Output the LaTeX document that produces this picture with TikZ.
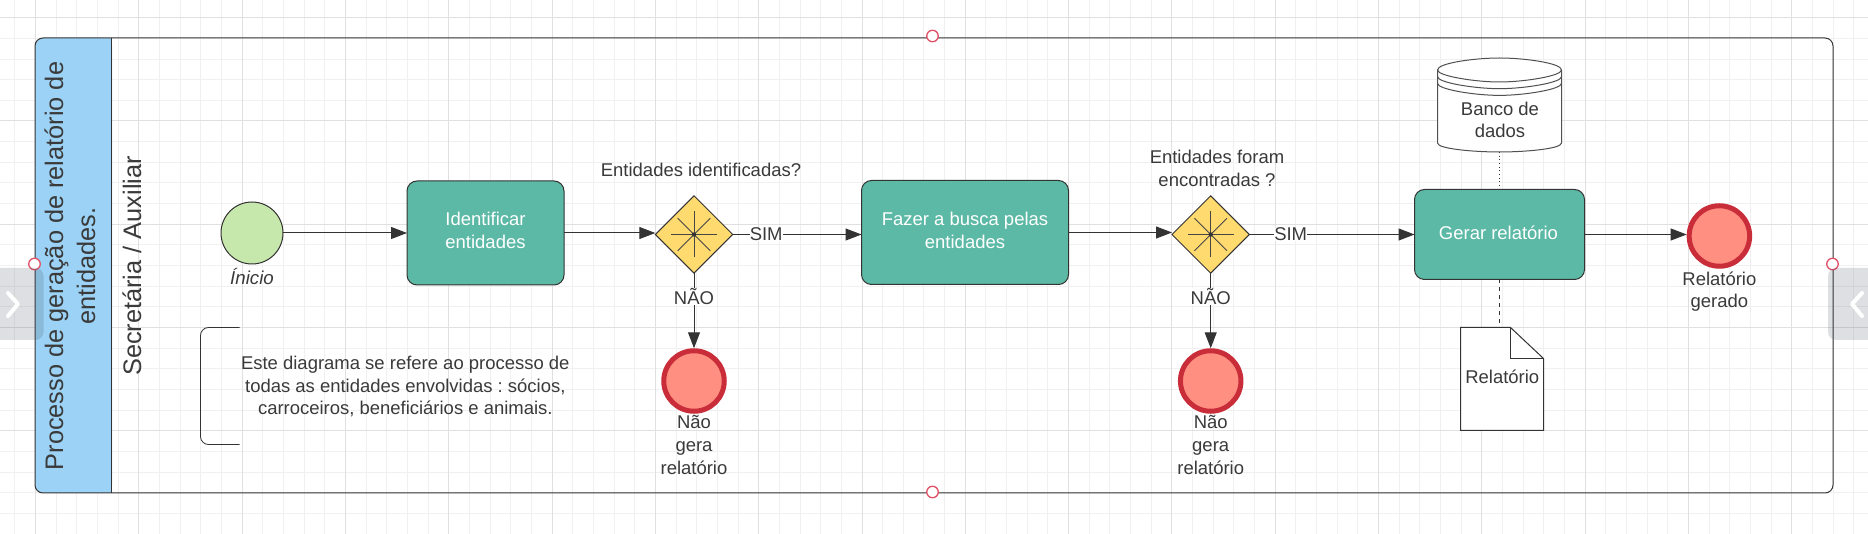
\documentclass[tikz,border=0pt]{standalone}
\usepackage{fontspec}
\setmainfont{Liberation Sans}
\frenchspacing
\usetikzlibrary{arrows.meta}
\usetikzlibrary{shapes.geometric}

\def\px{0.75pt}
\tikzset{
	gridminor/.style={color={rgb, 255:red, 240; green, 240; blue, 240 }, line width=0.75pt},
	gridmajor/.style={color={rgb, 255:red, 224; green, 224; blue, 224 }, line width=0.75pt},
	flow/.style={color={rgb, 255:red, 51; green, 51; blue, 51 }, line width=0.75pt, -{Triangle[length=12pt,width=9pt]}},
	flowplain/.style={color={rgb, 255:red, 51; green, 51; blue, 51 }, line width=0.75pt},
	txt/.style={inner sep=0.75pt, align=center, font=\frenchspacing\fontsize{13.85pt}{17pt}\selectfont, text={rgb, 255:red, 58; green, 58; blue, 58 }},
	branch/.style={txt, fill=white, inner sep=0pt},
	tasktxt/.style={txt, text=white},
	task/.style={rectangle, rounded corners=7.5pt, draw={rgb, 255:red, 51; green, 51; blue, 51 }, line width=0.75pt, fill={rgb, 255:red, 92; green, 185; blue, 165 }, outer sep=0pt},
	gate/.style={diamond, aspect=1, inner sep=0pt, minimum width=77.4*\px, minimum height=77.4*\px, draw={rgb, 255:red, 51; green, 51; blue, 51 }, line width=0.75pt, fill={rgb, 255:red, 255; green, 218; blue, 110 }, outer sep=0pt},
	startev/.style={circle, inner sep=0pt, minimum size=62*\px, draw={rgb, 255:red, 51; green, 51; blue, 51 }, line width=0.75pt, fill={rgb, 255:red, 199; green, 232; blue, 172 }, outer sep=0pt},
	endev/.style={circle, inner sep=0pt, minimum size=60.5*\px, draw={rgb, 255:red, 201; green, 45; blue, 57 }, line width=3.75pt, fill={rgb, 255:red, 255; green, 143; blue, 128 }, outer sep=1.87pt},
	handle/.style={circle, inner sep=0pt, minimum size=11.5*\px, draw={rgb, 255:red, 224; green, 82; blue, 104 }, line width=1pt, fill=white},
	tab/.style={fill={rgb, 255:red, 70; green, 80; blue, 95 }, fill opacity=0.18, draw opacity=0, rounded corners=6pt},
	chevron/.style={color=white, line width=3pt, line cap=round, line join=round},
}

\begin{document}
\begin{tikzpicture}[x=0.75pt,y=0.75pt,yscale=-1,xscale=1]
		\useasboundingbox (0,0) rectangle (1868,534);

		%Background grid
		\fill [white] (0,0) rectangle (1868,534);
		\foreach \k in {0,...,90} {
			\draw [gridminor] ({14.94+20.66*\k},0) -- ({14.94+20.66*\k},534);
		}
		\foreach \k in {0,...,25} {
			\draw [gridminor] (0,{17.7+20.66*\k}) -- (1868,{17.7+20.66*\k});
		}
		\foreach \k in {0,...,17} {
			\draw [gridmajor] ({35.6+103.3*\k},0) -- ({35.6+103.3*\k},534);
		}
		\foreach \k in {0,...,4} {
			\draw [gridmajor] (0,{17.7+103.3*\k}) -- (1868,{17.7+103.3*\k});
		}

		%Shape: Swimlane
		\fill [fill={rgb, 255:red, 155; green, 210; blue, 245 }, rounded corners=6pt] (35,38) -- (112,38) -- (112,493) -- (35,493) -- cycle ;
		\fill [fill={rgb, 255:red, 155; green, 210; blue, 245 }] (60,38) rectangle (111.5,493);
		\draw [color={rgb, 255:red, 51; green, 51; blue, 51 }, line width=0.75pt] (111.5,38) -- (111.5,493) ;
		\draw [color={rgb, 255:red, 51; green, 51; blue, 51 }, line width=0.75pt, rounded corners=6pt] (35,38) rectangle (1833,493) ;

		% Text Node
		\node (titulo) at (70,266) [txt, rotate=90, font=\fontsize{19pt}{24pt}\selectfont] {Processo de geração de relatório de\\entidades.};
		% Text Node
		\node (lane) at (132,266) [txt, rotate=90, font=\fontsize{19pt}{22pt}\selectfont] {Secretária / Auxiliar};

		%Shape: Bracket
		\draw [color={rgb, 255:red, 51; green, 51; blue, 51 }, line width=0.6pt, rounded corners=6pt] (239.5,327.5) -- (200.5,327.5) -- (200.5,444.5) -- (239.5,444.5) ;
		% Text Node
		\node (nota) at (405.3,386.5) [txt] {Este diagrama se refere ao processo de\\todas as entidades envolvidas : sócios,\\carroceiros, beneficiários e animais.};

		%Shape: Events, Tasks and Gateways
		\node (inicio) at (252,233) [startev] {};
		\node (identificar) at (485.5,233) [task, minimum width=157*\px, minimum height=104*\px] {};
		\node (gate1) at (694,234.5) [gate] {};
		\node (busca) at (965,232.5) [task, minimum width=207*\px, minimum height=104*\px] {};
		\node (gate2) at (1210.7,234.5) [gate] {};
		\node (gerar) at (1499.5,234.5) [task, minimum width=170*\px, minimum height=90*\px] {};
		\node (fim1) at (694,381) [endev] {};
		\node (fim2) at (1210.7,381) [endev] {};
		\node (fim3) at (1719.4,236) [endev] {};

		% Text Node
		\node (identificartxt) at (485.5,230.5) [tasktxt] {Identificar\\entidades};
		% Text Node
		\node (buscatxt) at (965,230.5) [tasktxt] {Fazer a busca pelas\\entidades};
		% Text Node
		\node (gerartxt) at (1498.5,232.5) [tasktxt] {Gerar relatório};

		%Gateway marks
		\foreach \g in {gate1,gate2} {
			\foreach \a in {0,45,90,135} {
				\draw [color={rgb, 255:red, 70; green, 70; blue, 70 }, line width=0.75pt] (\g.center) ++(\a:23) -- ++(\a+180:46) ;
			}
			\fill [color={rgb, 255:red, 51; green, 51; blue, 51 }] (\g.center) circle (2.2) ;
		}

		%Shape: Database
		\draw [draw={rgb, 255:red, 80; green, 80; blue, 80 }, fill=white, line width=0.75pt] (1437.5,70) .. controls (1437.5,63) and (1475,58) .. (1499.5,58) .. controls (1524,58) and (1561.5,63) .. (1561.5,70) -- (1561.5,143) .. controls (1561.5,149) and (1524,152) .. (1499.5,152) .. controls (1475,152) and (1437.5,149) .. (1437.5,143) -- cycle ;
		\foreach \d in {0,6.7,13.4} {
			\draw [color={rgb, 255:red, 80; green, 80; blue, 80 }, line width=0.75pt] (1437.5,70+\d) .. controls (1437.5,76+\d) and (1475,82+\d) .. (1499.5,82+\d) .. controls (1524,82+\d) and (1561.5,76+\d) .. (1561.5,70+\d) ;
		}
		\node (banco) at (1499.5,105) [txt, minimum width=124*\px, minimum height=94*\px, text depth=0pt, outer sep=0pt] {};
		\node (bancotxt) at (1500,120) [txt] {Banco de\\dados};

		%Shape: Document
		\draw [draw={rgb, 255:red, 51; green, 51; blue, 51 }, fill=white, line width=0.75pt] (1460.5,327.5) -- (1510.5,327.5) -- (1543.5,358.5) -- (1543.5,430.5) -- (1460.5,430.5) -- cycle ;
		\draw [color={rgb, 255:red, 51; green, 51; blue, 51 }, line width=0.75pt] (1510.5,327.5) -- (1510.5,358.5) -- (1543.5,358.5) ;
		\coordinate (relatorio) at (1499.5,327.5);
		% Text Node
		\node (relatoriotxt) at (1502.3,377) [txt] {Relatório};

		%Straight Lines
		\draw [flow] (inicio.east) -- (inicio.east -| identificar.west) ;
		\draw [flow] (identificar.east) -- (identificar.east -| gate1.west) ;
		\draw [flow] (gate1.east) -- (gate1.east -| busca.west) node [pos=0.26, branch] (sim1) {SIM} ;
		\draw [flow] (gate1.south) -- (fim1.north) node [pos=0.31, branch] (nao1) {NÃO} ;
		\draw [flow] (busca.east) -- (busca.east -| gate2.west) ;
		\draw [flow] (gate2.east) -- (gate2.east -| gerar.west) node [pos=0.25, branch] (sim2) {SIM} ;
		\draw [flow] (gate2.south) -- (fim2.north) node [pos=0.31, branch] (nao2) {NÃO} ;
		\draw [flow] (gerar.east) -- (gerar.east -| fim3.west) ;
		\draw [flowplain, dotted] (banco.south) -- (gerar.north) ;
		\draw [flowplain, dashed] (gerar.south) -- (relatorio) ;

		% Text Node
		\node (inicioetq) at (252,277) [txt, font=\itshape\fontsize{14pt}{15pt}\selectfont] {Ínicio};
		% Text Node
		\node (perg1) at (701,169.5) [txt] {Entidades identificadas?};
		% Text Node
		\node (perg2) at (1217,168.5) [txt] {Entidades foram\\encontradas ?};
		% Text Node
		\node (fimetq1) at (694,445) [txt] {Não\\gera\\relatório};
		% Text Node
		\node (fimetq2) at (1210.7,445) [txt] {Não\\gera\\relatório};
		% Text Node
		\node (fimetq3) at (1719.4,291.5) [txt] {Relatório\\gerado};

		%Canvas handles
		\node (h1) at (932.5,36) [handle] {};
		\node (h2) at (932.5,492) [handle] {};
		\node (h3) at (34.5,264) [handle] {};
		\node (h4) at (1832.5,264) [handle] {};

		%Shape: Side tabs
		\fill [tab] (-12,268) rectangle (43.5,340) ;
		\fill [tab] (1828,268) rectangle (1880,340) ;
		\draw [chevron] (8,293) -- (18,304) -- (8,316) ;
		\draw [chevron] (1862,293) -- (1852,304) -- (1862,316) ;
\end{tikzpicture}
\end{document}
